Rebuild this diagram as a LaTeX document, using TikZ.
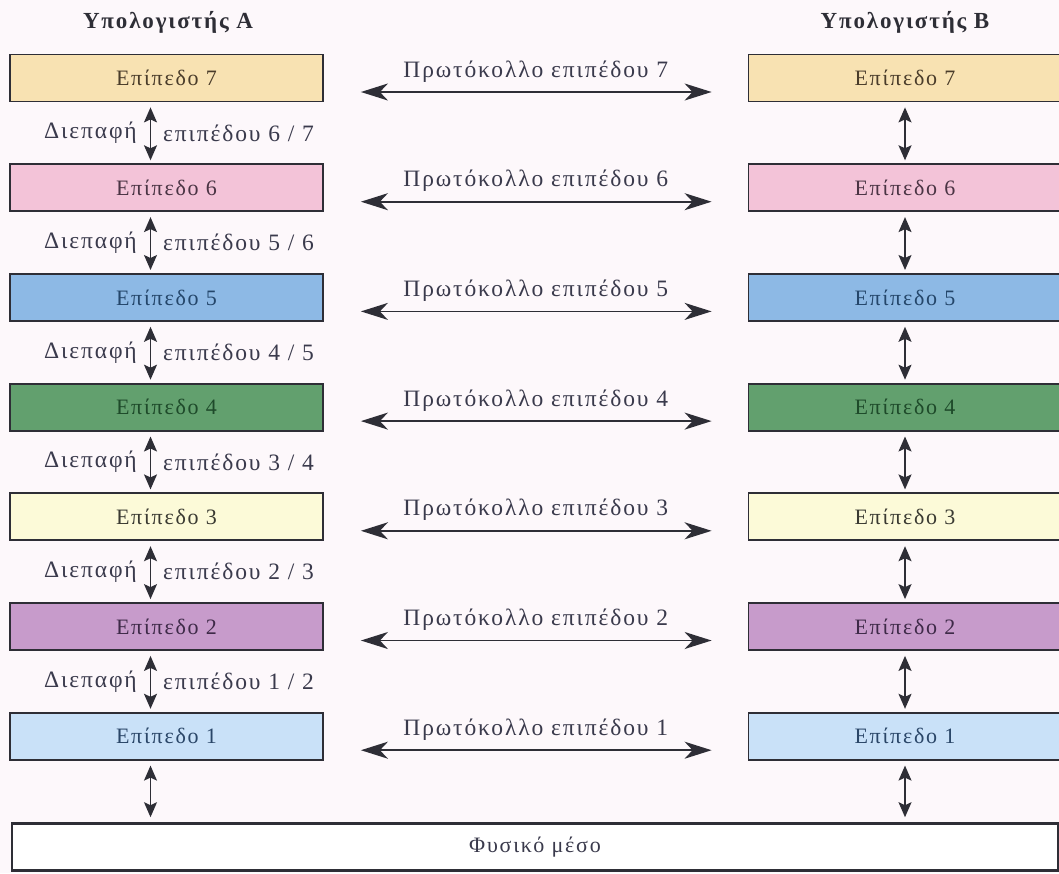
\documentclass[tikz,border=0pt]{standalone}
\usepackage{fontspec}
\setmainfont{Liberation Serif}[LetterSpace=8]
\usetikzlibrary{arrows.meta}

\definecolor{paper}{HTML}{FDF8FB}
\definecolor{edge}{HTML}{2E2E36}
\definecolor{ink}{HTML}{3A3A4C}
\definecolor{cSeven}{HTML}{F8E2B2}
\definecolor{cSix}{HTML}{F3C3D8}
\definecolor{cFive}{HTML}{8DB9E5}
\definecolor{cFour}{HTML}{62A06E}
\definecolor{cThree}{HTML}{FCFAD8}
\definecolor{cTwo}{HTML}{C79BCB}
\definecolor{cOne}{HTML}{C9E1F8}
\definecolor{tSeven}{HTML}{4A3C2A}
\definecolor{tSix}{HTML}{4A3444}
\definecolor{tFive}{HTML}{24466A}
\definecolor{tFour}{HTML}{1E4A2A}
\definecolor{tThree}{HTML}{3A3A32}
\definecolor{tTwo}{HTML}{3E2A48}
\definecolor{tOne}{HTML}{2A4668}

\tikzset{
  layerbox/.style={draw=edge, line width=1.8pt, minimum width=313pt,
    minimum height=47pt, inner sep=0pt, text=ink,
    font=\fontsize{22}{22}\selectfont},
  mediumbox/.style={draw=edge, line width=2.6pt, fill=white,
    minimum width=1046pt, minimum height=47pt, inner sep=0pt, text=ink,
    font=\fontsize{22}{22}\selectfont},
  hosttitle/.style={font=\bfseries\fontsize{23}{23}\selectfont, text=edge},
  protoarrow/.style={draw=edge, line width=1.7pt,
    {Stealth[length=27pt,width=17pt,inset=8pt]}-{Stealth[length=27pt,width=17pt,inset=8pt]}},
  vertarrow/.style={draw=edge, line width=1.4pt,
    {Stealth[length=15pt,width=13pt,inset=3pt]}-{Stealth[length=15pt,width=13pt,inset=3pt]}},
  protolabel/.style={text=ink, font=\fontsize{23.5}{23.5}\selectfont, inner sep=0pt},
  ifacelabel/.style={text=ink, font=\fontsize{23.5}{23.5}\selectfont, inner sep=0pt},
}

\begin{document}
\begin{tikzpicture}[x=1pt, y=-1pt]
  % page and background
  \fill[paper] (0,0) rectangle (1059,873);
  \clip (0,0) rectangle (1059,873);

  % host titles
  \node[hosttitle] (titleA) at (168,22) {Υπολογιστής Α};
  \node[hosttitle] (titleB) at (905,22) {Υπολογιστής Β};

  % the seven layers of each host
  \foreach \n/\c/\t in {7/cSeven/tSeven,6/cSix/tSix,5/cFive/tFive,4/cFour/tFour,
                        3/cThree/tThree,2/cTwo/tTwo,1/cOne/tOne}{
    \pgfmathsetmacro{\yy}{78+109.7*(7-\n)}
    \node[layerbox, fill=\c, text=\t] (L\n) at (166.5,\yy) {Επίπεδο \n};
    \node[layerbox, fill=\c, text=\t] (R\n) at (905,\yy) {Επίπεδο \n};
  }

  % physical medium
  \node[mediumbox] (M) at (535,847) {Φυσικό μέσο};

  % peer protocols between the hosts
  \foreach \n in {7,...,1}{
    \draw[protoarrow, shorten <=37pt, shorten >=36pt]
      ([yshift=-14pt]L\n.east) -- ([yshift=-14pt]R\n.west)
      node[protolabel, midway, above=9pt] {Πρωτόκολλο επιπέδου \n};
  }

  % interfaces between adjacent layers
  \foreach \u/\l in {7/6,6/5,5/4,4/3,3/2,2/1}{
    \draw[vertarrow, shorten <=5pt, shorten >=3pt]
      ([xshift=-16pt]L\u.south) -- ([xshift=-16pt]L\l.north)
      node[ifacelabel, midway, left=13pt] {Διεπαφή}
      node[ifacelabel, midway, right=12pt] {επιπέδου \l\ / \u};
    \draw[vertarrow, shorten <=5pt, shorten >=3pt]
      (R\u.south) -- (R\l.north);
  }

  % lowest layer to the medium
  \coordinate (LA) at ([xshift=-16pt]L1.south);
  \draw[vertarrow, shorten <=5pt, shorten >=5pt] (LA) -- (LA |- M.north);
  \draw[vertarrow, shorten <=5pt, shorten >=5pt] (R1.south) -- (R1.south |- M.north);
\end{tikzpicture}
\end{document}
